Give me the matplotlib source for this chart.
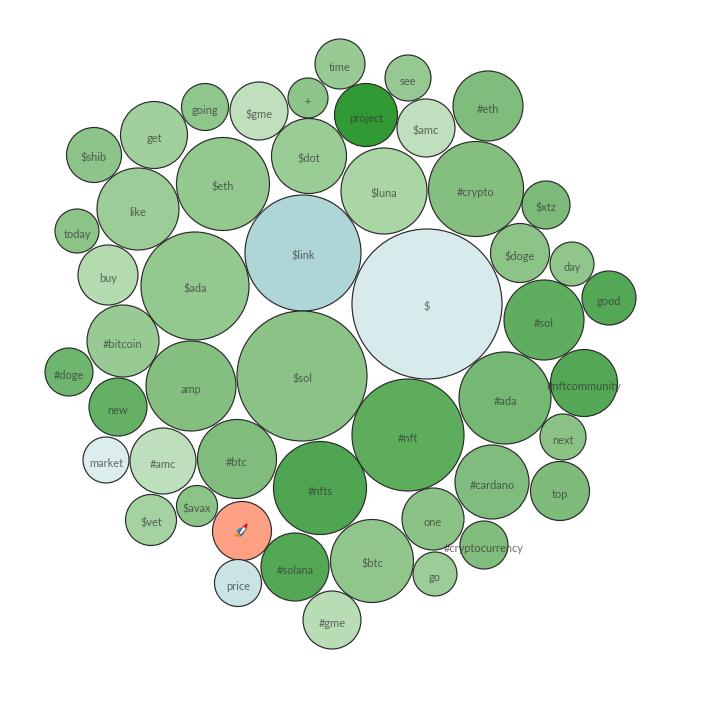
import matplotlib
matplotlib.use("Agg")
import matplotlib.pyplot as plt
from matplotlib.patches import Circle, Polygon

labels = ["$", "$link", "$sol", "#nft", "$ada", "$eth", "#crypto", "$luna", "#ada", "amp",
          "#nfts", "$btc", "#btc", "#sol", "like", "#bitcoin", "#cardano", "$dot", "get", "#amc",
          "#solana", "#nftcommunity", "one", "project", "$doge", "#eth", "top", "buy", "$gme", "$amc",
          "", "new", "#gme", "$vet", "$shib", "good", "$xtz", "#doge", "today", "day",
          "market", "price", "next", "going", "$avax", "time", "see", "+", "#cryptocurrency", "go"]
x_pos = [427, 303, 302, 408, 195, 223, 476, 384, 505, 191,
         320, 372, 237, 544, 138, 123, 492, 309, 154, 163,
         295, 584, 433, 366, 520, 488, 560, 108, 259, 426,
         242, 118, 332, 151, 94, 609, 546, 69, 77, 572,
         106, 238, 563, 205, 197, 340, 408, 308, 484, 435]
y_pos = [304, 253, 376, 435, 286, 184, 189, 191, 398, 386,
         488, 561, 459, 320, 209, 341, 482, 156, 135, 461,
         567, 383, 519, 115, 253, 106, 491, 275, 111, 128,
         531, 407, 620, 520, 155, 298, 205, 372, 231, 264,
         460, 583, 437, 107, 506, 64, 78, 98, 545, 574]
radii = [75, 58, 65, 56, 54, 46.5, 47.5, 43, 46, 45,
         46.5, 41.5, 39.5, 40, 41, 36, 37, 37.5, 33.5, 33,
         34, 33.5, 31, 31.5, 29.5, 35, 29.5, 30, 29, 29,
         29.5, 29, 29, 25.5, 27.5, 27, 24, 24, 22, 22,
         23, 23.5, 23, 23.5, 20.5, 25, 23, 20, 24, 22]
colours = ["#d7eaec", "#aed6d6", "#8bc387", "#5dad5d", "#93c88f", "#93c88f", "#84bf80", "#aad5a5", "#74b874", "#84bf80",
           "#4fa551", "#90c68b", "#80bd7c", "#5fae5f", "#9ccd98", "#98cb94", "#7fbc7d", "#9acc96", "#a1d09d", "#bddfbb",
           "#54a755", "#54a755", "#8bc387", "#319a35", "#8cc488", "#80bd7c", "#7fbc7b", "#b4dab0", "#c0e0bd", "#bfdfbf",
           "#fea083", "#64b064", "#b8ddb5", "#a5d2a1", "#8dc489", "#54a755", "#7cba79", "#6eb56e", "#8cc488", "#90c68c",
           "#dcedee", "#cae4e6", "#8bc387", "#8fc68b", "#8cc488", "#98ca93", "#96c992", "#8dc489", "#80bd7c", "#9ccd98"]

plt.rcParams["font.family"] = ["Lato", "DejaVu Sans"]
fig = plt.figure(figsize=(7.24, 7.10), dpi=100, facecolor="white")
ax = fig.add_axes([0, 0, 1, 1])
ax.set_xlim(0, 724)
ax.set_ylim(710, 0)
ax.set_aspect("equal")
ax.axis("off")

for lab, x, y, r, c in zip(labels, x_pos, y_pos, radii, colours):
    ax.add_patch(Circle((x, y), r, facecolor=c, edgecolor="#2a2a2a", linewidth=0.85, zorder=2))
    if lab:
        ax.annotate(lab, (x, y), xytext=(0, -2.2), textcoords="offset points",
                    ha="center", va="center", fontsize=7.9, color="#333333", alpha=0.72, zorder=3)

# rocket emoji stand-in on the unlabeled bubble (no emoji font installed)
i = labels.index("")
cx, cy = x_pos[i], y_pos[i]
ax.add_patch(Polygon([(cx - 4, cy + 2), (cx - 7, cy + 5), (cx - 2, cy + 5)], color="#e0902a", zorder=3))
ax.add_patch(Polygon([(cx - 5, cy), (cx - 1, cy - 3), (cx - 1, cy + 2)], color="#1e8fd0", zorder=3))
ax.add_patch(Polygon([(cx - 1, cy + 5), (cx + 2, cy + 1), (cx - 2, cy + 2)], color="#1e8fd0", zorder=3))
ax.add_patch(Polygon([(cx - 3, cy + 2), (cx + 1, cy - 4), (cx + 5, cy - 7), (cx + 4, cy - 2), (cx - 1, cy + 4)],
                     facecolor="#f2f2f2", edgecolor="#333333", linewidth=0.5, zorder=4))
ax.add_patch(Polygon([(cx + 2, cy - 5), (cx + 5, cy - 7), (cx + 4, cy - 3)], color="#c8202c", zorder=5))

fig.savefig("out.png", dpi=100, facecolor="white")
